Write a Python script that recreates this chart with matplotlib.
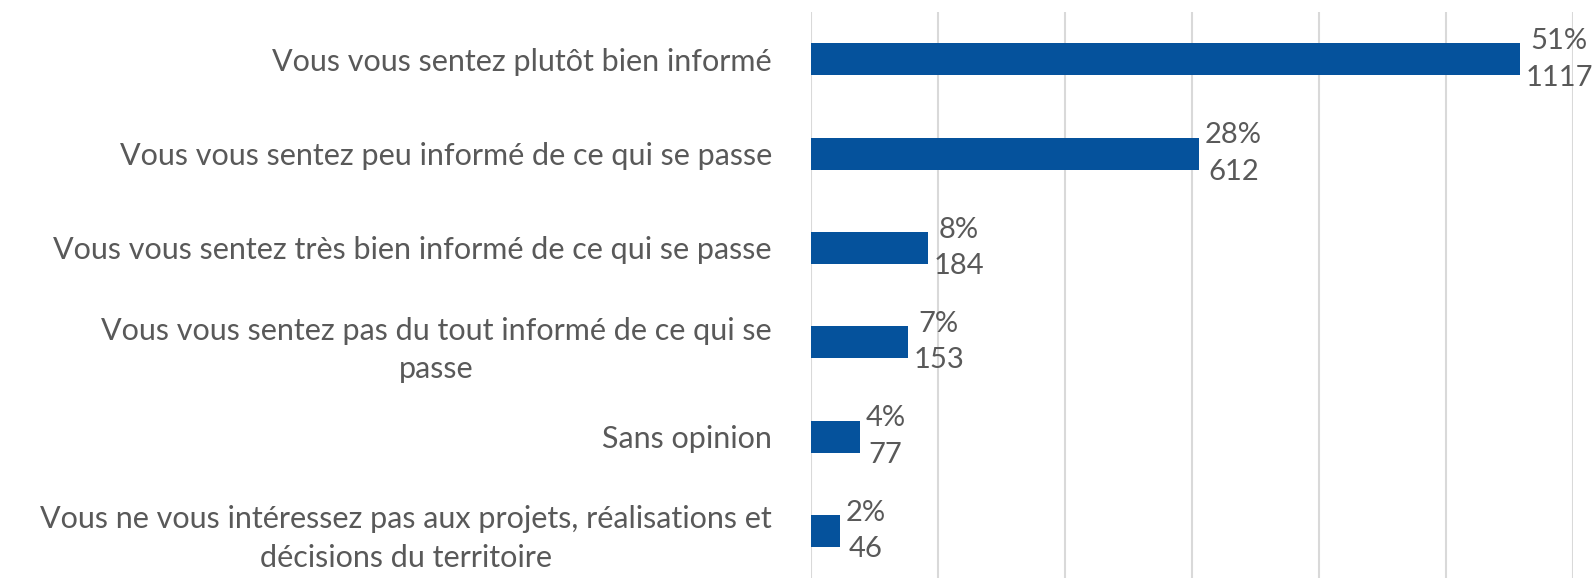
import matplotlib.pyplot as plt

categories = [
    "Vous vous sentez plutôt bien informé",
    "Vous vous sentez peu informé de ce qui se passe",
    "Vous vous sentez très bien informé de ce qui se passe",
    "Vous vous sentez pas du tout informé de ce qui se\npasse",
    "Sans opinion",
    "Vous ne vous intéressez pas aux projets, réalisations et\ndécisions du territoire",
]
counts = [1117, 612, 184, 153, 77, 46]
percents = [51, 28, 8, 7, 4, 2]

plt.rcParams['font.family'] = ['Lato', 'DejaVu Sans']
text_col = '#595959'
bar_col = '#05529C'

fig = plt.figure(figsize=(15.96, 5.78), dpi=100)
ax = fig.add_axes([0.508, 0.0, 0.4773, 0.979])

y = list(range(len(categories)))
ax.barh(y, counts, height=0.34, color=bar_col, zorder=2)
ax.set_ylim(len(categories) - 0.5, -0.5)
ax.set_xlim(0, 1200)
ax.set_xticks(range(0, 1201, 200))
ax.xaxis.grid(True, color='#d9d9d9', linewidth=1.5, zorder=0)
ax.tick_params(axis='x', length=0, labelbottom=False)
ax.tick_params(axis='y', length=0, pad=28)
ax.set_yticks(y)
ax.set_yticklabels(categories, fontsize=22, color=text_col,
                   multialignment='center', linespacing=1.45)
for s in ax.spines.values():
    s.set_visible(False)

for yi, c, p in zip(y, counts, percents):
    ax.annotate(f"{p}%\n{c}", (c, yi), xytext=(4, 0), textcoords='offset points',
                ha='left', va='center', multialignment='center',
                fontsize=21, color=text_col, linespacing=1.5,
                annotation_clip=False)

fig.savefig('out.png', dpi=100)
